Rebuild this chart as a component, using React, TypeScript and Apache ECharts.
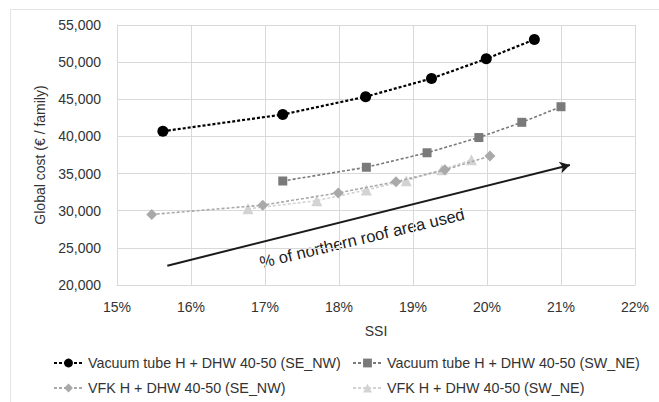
import React, { useEffect, useRef } from "react";
import * as echarts from "echarts";

const seriesNames = [
  "Vacuum tube H + DHW 40-50 (SE_NW)",
  "Vacuum tube H + DHW 40-50 (SW_NE)",
  "VFK H + DHW 40-50 (SE_NW)",
  "VFK H + DHW 40-50 (SW_NE)",
];

const vacSENW_x = [15.62, 17.24, 18.36, 19.25, 19.99, 20.64];
const vacSENW_y = [40700, 42950, 45350, 47800, 50450, 53050];

const vacSWNE_x = [17.24, 18.37, 19.19, 19.89, 20.47, 21.0];
const vacSWNE_y = [34000, 35850, 37800, 39850, 41900, 44000];

const vfkSENW_x = [15.47, 16.97, 17.99, 18.77, 19.43, 20.04];
const vfkSENW_y = [29500, 30750, 32400, 33900, 35500, 37350];

const vfkSWNE_x = [16.77, 17.7, 18.37, 18.91, 19.39, 19.79];
const vfkSWNE_y = [30250, 31350, 32800, 34050, 35500, 36850];

const arrowFrom = [15.68, 22600];
const arrowTo = [21.12, 36150];
const arrowText = "% of northern roof area used";

const xTicks = [15, 16, 17, 18, 19, 20, 21, 22];
const yTicks = [20000, 25000, 30000, 35000, 40000, 45000, 50000, 55000];

const pair = (xs: number[], ys: number[]) => xs.map((x, i) => [x, ys[i]]);

export default function App() {
  const ref = useRef<HTMLDivElement>(null);
  useEffect(() => {
    if (!ref.current) return;
    const chart = echarts.init(ref.current, undefined, { renderer: "svg" });
    const font = "Liberation Sans, Arial, sans-serif";
    const gridColor = "#d9d9d9";
    const legendPos = [
      { left: 48, top: 351 },
      { left: 347, top: 351 },
      { left: 48, top: 376 },
      { left: 347, top: 376 },
    ];
    chart.setOption({
      animation: false,
      backgroundColor: "#ffffff",
      textStyle: { fontFamily: font },
      grid: { left: 117, right: 24, top: 25, bottom: 117 },
      xAxis: {
        type: "value",
        min: xTicks[0],
        max: xTicks[xTicks.length - 1],
        interval: 1,
        name: "SSI",
        nameLocation: "middle",
        nameGap: 39,
        nameTextStyle: { fontSize: 14, color: "#333", fontFamily: font },
        axisLine: { show: true, lineStyle: { color: gridColor } },
        axisTick: { show: false },
        axisLabel: {
          margin: 15,
          fontSize: 14,
          color: "#333",
          fontFamily: font,
          formatter: (v: number) => `${Math.round(v)}%`,
        },
        splitLine: { show: true, lineStyle: { color: gridColor } },
      },
      yAxis: {
        type: "value",
        min: yTicks[0],
        max: yTicks[yTicks.length - 1],
        interval: 5000,
        name: "Global cost (€ / family)",
        nameLocation: "middle",
        nameGap: 66,
        nameTextStyle: { fontSize: 14, color: "#333", fontFamily: font },
        axisLine: { show: true, lineStyle: { color: gridColor } },
        axisTick: { show: false },
        axisLabel: {
          margin: 16,
          fontSize: 14,
          color: "#333",
          fontFamily: font,
          formatter: (v: number) => v.toLocaleString("en-US"),
        },
        splitLine: { show: true, lineStyle: { color: gridColor } },
      },
      legend: seriesNames.map((n, i) => ({
        orient: "horizontal",
        left: legendPos[i].left,
        top: legendPos[i].top,
        itemWidth: 29,
        itemHeight: 11,
        itemGap: 3,
        textStyle: { fontSize: 14.3, color: "#333", fontFamily: font },
        data: [n],
      })),
      series: [
        {
          name: seriesNames[3],
          type: "line",
          data: pair(vfkSWNE_x, vfkSWNE_y),
          symbol: "triangle",
          symbolSize: 11,
          itemStyle: { color: "#d3d3d3" },
          lineStyle: { color: "#d3d3d3", width: 1.6, type: [3, 2] },
          z: 2,
        },
        {
          name: seriesNames[2],
          type: "line",
          data: pair(vfkSENW_x, vfkSENW_y),
          symbol: "diamond",
          symbolSize: 11,
          itemStyle: { color: "#a9a9a9" },
          lineStyle: { color: "#a9a9a9", width: 1.6, type: [3, 2] },
          z: 3,
        },
        {
          name: seriesNames[1],
          type: "line",
          data: pair(vacSWNE_x, vacSWNE_y),
          symbol: "rect",
          symbolSize: 9,
          itemStyle: { color: "#7a7a7a" },
          lineStyle: { color: "#7a7a7a", width: 1.6, type: [3, 2] },
          z: 4,
          markLine: {
            silent: true,
            symbol: ["none", "arrow"],
            symbolSize: [9, 10],
            label: { show: false },
            lineStyle: { color: "#1a1a1a", width: 2, type: "solid" },
            data: [[{ coord: arrowFrom }, { coord: arrowTo }]],
          },
        },
        {
          name: seriesNames[0],
          type: "line",
          data: pair(vacSENW_x, vacSENW_y),
          symbol: "circle",
          symbolSize: 11,
          itemStyle: { color: "#000000" },
          lineStyle: { color: "#000000", width: 2.2, type: [3, 2] },
          z: 5,
        },
      ],
      graphic: [
        {
          type: "rect",
          left: 8,
          top: 7,
          shape: { width: 660, height: 400 },
          style: { fill: "none", stroke: "#e3e3e3", lineWidth: 1 },
          z: -1,
        },
        {
          type: "text",
          x: 362,
          y: 238,
          rotation: 0.235,
          style: {
            text: arrowText,
            fontSize: 16.5,
            fill: "#1a1a1a",
            fontFamily: font,
            align: "center",
            verticalAlign: "middle",
          },
        },
      ],
    });
    return () => chart.dispose();
  }, []);
  return <div ref={ref} style={{ width: 659, height: 402, position: "absolute", left: 0, top: 0 }} />;
}
